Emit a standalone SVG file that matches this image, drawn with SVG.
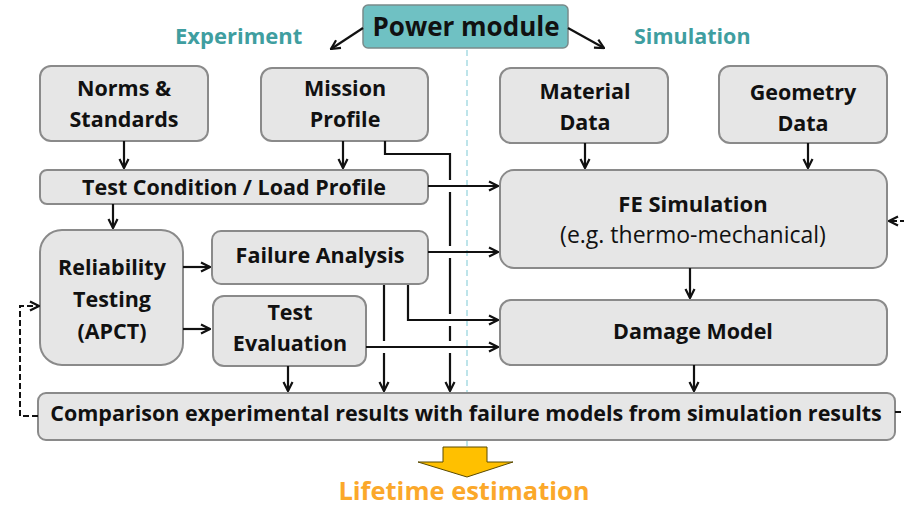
<svg xmlns="http://www.w3.org/2000/svg" width="904" height="506" viewBox="0 0 904 506">
<defs>
<marker id="ah" viewBox="0 0 12 12" refX="11" refY="6" markerWidth="12" markerHeight="12" markerUnits="userSpaceOnUse" orient="auto">
<path d="M2,1.5 L11,6 L2,10.5" fill="none" stroke="#111" stroke-width="2.2"/>
</marker>
<style>
.box{fill:#e6e6e6;stroke:#8a8a8a;stroke-width:2}
.t{font-family:"Open Sans","Liberation Sans",sans-serif;font-weight:bold;font-size:21.5px;fill:#111;text-anchor:middle}
.r{font-weight:normal}
.c{stroke:#111;stroke-width:2.2;fill:none}
.d{stroke:#111;stroke-width:2;fill:none;stroke-dasharray:6,3}
.hdr{font-family:"Open Sans","Liberation Sans",sans-serif;font-weight:bold;font-size:21.5px;fill:#3f9ea0}
</style>
</defs>
<rect width="904" height="506" fill="#fff"/>
<line x1="467" y1="50" x2="467" y2="448" stroke="#a8dce4" stroke-width="1.5" stroke-dasharray="6,4"/>
<text class="hdr" x="175" y="44" style="font-size:22px">Experiment</text>
<text class="hdr" x="634" y="44">Simulation</text>
<g id="power-module">
<rect x="363" y="5" width="205" height="43" rx="5" fill="#6fc1c3" stroke="#7a8a8a" stroke-width="1.5"/>
<text class="t" x="466" y="36" style="font-size:26px">Power module</text>
</g>
<g id="norms">
<rect class="box" x="40" y="66" width="168" height="75" rx="11"/>
<text class="t" x="124" y="96">Norms &amp;</text>
<text class="t" x="124" y="127">Standards</text>
</g>
<g id="mission">
<rect class="box" x="261" y="68" width="167" height="73" rx="11"/>
<text class="t" x="345" y="96">Mission</text>
<text class="t" x="345" y="127">Profile</text>
</g>
<g id="material">
<rect class="box" x="500" y="68" width="168" height="75" rx="11"/>
<text class="t" x="585" y="99">Material</text>
<text class="t" x="585" y="130">Data</text>
</g>
<g id="geometry">
<rect class="box" x="719" y="66" width="168" height="77" rx="11"/>
<text class="t" x="803" y="100">Geometry</text>
<text class="t" x="803" y="131">Data</text>
</g>
<g id="test-condition">
<rect class="box" x="40" y="170" width="388" height="34" rx="7"/>
<text class="t" x="234" y="195">Test Condition / Load Profile</text>
</g>
<g id="fe-simulation">
<rect class="box" x="500" y="170" width="387" height="98" rx="14"/>
<text class="t" x="693" y="212" style="font-size:22px">FE Simulation</text>
<text class="t r" x="693" y="243" style="font-size:23px">(e.g. thermo-mechanical)</text>
</g>
<g id="reliability">
<rect class="box" x="40" y="230" width="143" height="135" rx="22"/>
<text class="t" x="112" y="275">Reliability</text>
<text class="t" x="112" y="307">Testing</text>
<text class="t" x="112" y="339">(APCT)</text>
</g>
<g id="failure-analysis">
<rect class="box" x="212" y="231" width="216" height="53" rx="9"/>
<text class="t" x="320" y="263">Failure Analysis</text>
</g>
<g id="test-evaluation">
<rect class="box" x="213" y="296" width="153" height="70" rx="11"/>
<text class="t" x="290" y="320">Test</text>
<text class="t" x="290" y="351">Evaluation</text>
</g>
<g id="damage-model">
<rect class="box" x="500" y="300" width="387" height="65" rx="11"/>
<text class="t" x="693" y="339">Damage Model</text>
</g>
<g id="comparison">
<rect class="box" x="38" y="393" width="857" height="47" rx="8"/>
<text class="t" x="466" y="421">Comparison experimental results with failure models from simulation results</text>
</g>
<g id="lifetime">
<path d="M443,447 H487 V462 H513 L467,477 L418,462 H443 Z" fill="#ffc000" stroke="#5a4a00" stroke-width="1"/>
<text x="464" y="500" style="font-family:'Open Sans','Liberation Sans',sans-serif;font-weight:bold;font-size:25.5px;fill:#fba82a;text-anchor:middle">Lifetime estimation</text>
</g>
<g id="connectors">
<path class="c" d="M363,28 L331,49" marker-end="url(#ah)"/>
<path class="c" d="M568,28 L604,48" marker-end="url(#ah)"/>
<path class="c" d="M124,141 V168" marker-end="url(#ah)"/>
<path class="c" d="M343,141 V168" marker-end="url(#ah)"/>
<path class="c" d="M585,143 V168" marker-end="url(#ah)"/>
<path class="c" d="M808,143 V168" marker-end="url(#ah)"/>
<path class="c" d="M113,204 V228" marker-end="url(#ah)"/>
<path class="c" d="M183,267 H210" marker-end="url(#ah)"/>
<path class="c" d="M183,329 H210" marker-end="url(#ah)"/>
<path class="c" d="M428,186 H498" marker-end="url(#ah)"/>
<path class="c" d="M428,252 H498" marker-end="url(#ah)"/>
<path class="c" d="M408,285 V320 H498" marker-end="url(#ah)"/>
<path class="c" d="M366,347 H498" marker-end="url(#ah)"/>
<path class="c" d="M690,268 V298" marker-end="url(#ah)"/>
<path class="c" d="M694,365 V391" marker-end="url(#ah)"/>
<path class="c" d="M288,366 V391" marker-end="url(#ah)"/>
<path class="c" d="M385,141 V154 H450 V180 M450,192 V246 M450,258 V314 M450,326 V341"/>
<path class="c" d="M450,353 V391" marker-end="url(#ah)"/>
<path class="c" d="M384,285 V341"/>
<path class="c" d="M384,353 V391" marker-end="url(#ah)"/>
<path class="d" d="M38,416 H20 V306 H39" marker-end="url(#ah)"/>
<path class="d" d="M906,221 H889" marker-end="url(#ah)"/>
<path class="d" d="M895,412 H906"/>
</g>
</svg>
